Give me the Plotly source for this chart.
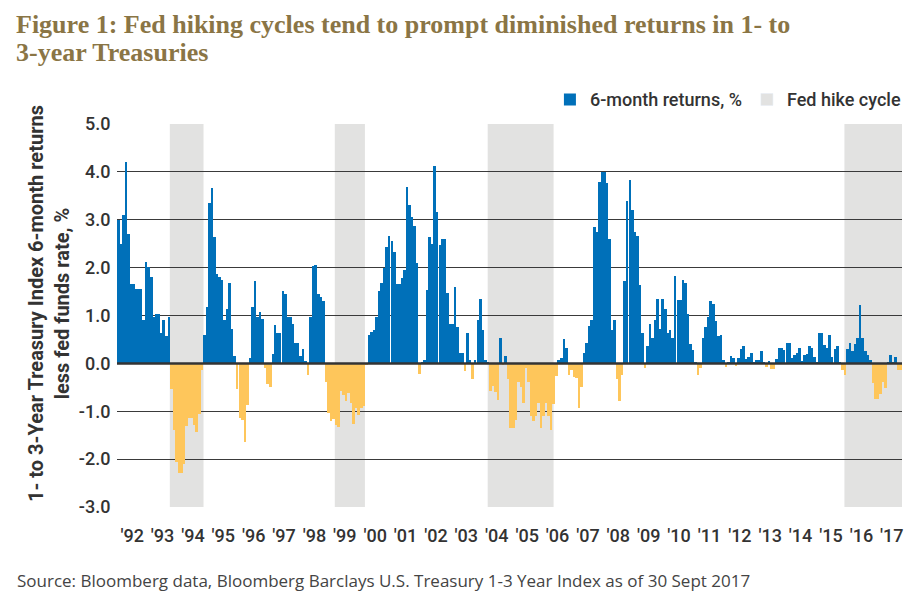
import pandas as pd
import plotly.graph_objects as go

# Monthly 6-month returns of 1-3Y Treasury index less fed funds rate (%), from Jan 1992
returns_1992_1996 = [
    3.0, 2.5, 3.1, 4.2, 2.7, 1.66, 1.66, 1.55, 1.55, 1.55, 0.9, 2.12,
    2.02, 1.8, 0.97, 1.04, 1.04, 0.64, 0.9, 0.57, 0.97, -0.53, -1.39, -2.06,
    -2.28, -2.28, -2.11, -1.31, -1.14, -1.14, -1.28, -1.43, -1.06, -0.14, 0.6, 1.18,
    3.35, 3.66, 2.64, 1.86, 1.8, 1.75, 0.9, 1.14, 1.68, 0.71, 0.15, -0.54,
    -1.15, -1.18, -1.64, -0.86, 0.12, 1.18, 1.72, 0.97, 1.07, 0.93, -0.1, -0.44,
]
returns_1997_2001 = [
    -0.49, 0.19, 0.8, 0.64, 0.64, 1.52, 1.45, 0.97, 0.97, 0.83, 0.43, 0.43,
    0.15, 0.29, 0.04, -0.24, 0.97, 2.03, 2.06, 1.45, 1.39, 1.31, -0.39, -1.04,
    -1.21, -1.17, -1.28, -1.32, -0.58, -0.67, -0.78, -0.61, -0.83, -1.27, -0.93, -1.07,
    -0.93, -0.89, -0.03, 0.6, 0.65, 0.7, 0.97, 1.52, 1.68, 2.0, 2.43, 2.67,
    2.55, 2.32, 1.66, 1.66, 1.79, 1.96, 3.69, 3.3, 3.05, 2.88, 2.1, -0.22,
]
returns_2002_2006 = [
    0.03, 0.07, 1.54, 2.64, 2.5, 4.13, 3.16, 2.48, 2.6, 2.6, 1.47, 0.83,
    0.83, 1.59, 0.77, 0.22, 0.22, -0.15, 0.64, 0.08, -0.32, 0.08, 0.9, 1.35,
    0.7, 0.08, 0.02, -0.58, -0.47, -0.6, -0.77, 0.54, -0.04, 0.15, -0.33, -1.36,
    -1.36, -1.18, -0.39, -0.49, -0.82, -0.1, -0.39, -1.09, -1.2, -1.09, -0.83, -1.36,
    -1.09, -0.83, -1.1, -1.39, -0.85, -0.26, 0.08, 0.12, 0.5, 0.33, -0.24, -0.14,
]
returns_2007_2011 = [
    -0.29, -0.31, -0.93, -0.5, 0.22, 0.43, 0.79, 0.9, 2.84, 2.74, 3.78, 3.99,
    3.99, 3.76, 2.6, 0.7, 0.9, -0.32, -0.79, -0.24, 1.73, 3.39, 3.83, 3.21,
    2.75, 2.67, 1.63, 0.64, -0.1, 0.36, 0.83, 0.54, 0.9, 1.35, 0.71, 1.35,
    1.14, 0.64, 0.7, 0.54, 1.82, 1.32, 1.32, 1.75, 1.68, 1.04, 0.4, 0.27,
    0.02, -0.24, -0.1, 0.54, 0.77, 0.97, 1.31, 1.25, 0.88, 0.57, 0.6, 0.07,
]
returns_2012_2017 = [
    -0.07, 0.02, 0.15, 0.12, -0.05, 0.12, 0.29, 0.36, 0.1, 0.13, 0.22, 0.02,
    0.08, 0.08, 0.26, 0.02, -0.07, 0.05, -0.11, -0.11, 0.1, 0.32, 0.32, 0.27,
    0.43, 0.43, 0.12, 0.18, 0.22, 0.33, 0.05, 0.17, 0.2, 0.36, 0.33, 0.13,
    0.01, 0.63, 0.63, 0.39, 0.33, 0.6, 0.13, 0.29, 0.36, 0.02, -0.13, -0.25,
    0.29, 0.43, 0.26, 0.4, 0.53, 1.21, 0.53, 0.26, 0.17, 0.08, -0.4, -0.74,
    -0.74, -0.63, -0.39, -0.51, 0.01, 0.17, 0.03, 0.13, -0.14, -0.14,
]

hike_starts = ["1993-09-27", "1999-03-03", "2004-03-14", "2015-12-10"]
hike_ends = ["1994-11-06", "2000-02-28", "2006-05-15", "2017-11-01"]

years = list(range(1992, 2018))
year_labels = ["'" + str(y)[2:] for y in years]
y_ticks = [-3, -2, -1, 0, 1, 2, 3, 4, 5]

title_lines = ["Figure 1: Fed hiking cycles tend to prompt diminished returns in 1- to",
               "3-year Treasuries"]

values = returns_1992_1996 + returns_1997_2001 + returns_2002_2006 + returns_2007_2011 + returns_2012_2017
months = pd.date_range("1992-01-01", periods=len(values), freq="MS") + pd.Timedelta(days=15)
month_ms = 30.44 * 24 * 3600 * 1000

pos = [v if v > 0 else None for v in values]
neg = [v if v <= 0 else None for v in values]

label_font = "Roboto, Lato, sans-serif"
text_color = "#333333"

# page body has an 8px margin; figure is sized/offset to compensate
W, H = 914, 601
ML, MR, MT, MB = 109, 20, 116, 102
plot_w = W - ML - MR
plot_h = H - MT - MB


def px_x(fx):
    return (fx - ML) / plot_w


def px_y(fy):
    return 1 - (fy - MT) / plot_h


fig = go.Figure()
fig.add_trace(go.Bar(x=months, y=pos, width=[month_ms] * len(values),
                     marker=dict(color="#0070b9", line=dict(width=0)),
                     name="6-month returns, %"))
fig.add_trace(go.Bar(x=months, y=neg, width=[month_ms] * len(values),
                     marker=dict(color="#fec65b", line=dict(width=0)),
                     showlegend=False, name="neg"))
fig.add_trace(go.Bar(x=[None], y=[None], marker=dict(color="#e2e2e1"), name="Fed hike cycle"))

for s, e in zip(hike_starts, hike_ends):
    fig.add_shape(type="rect", xref="x", yref="paper", x0=s, x1=e, y0=0, y1=1,
                  fillcolor="#e2e2e1", line=dict(width=0), layer="below")

fig.add_shape(type="line", xref="paper", yref="y", x0=0, x1=1, y0=0, y1=0,
              line=dict(color="#333333", width=2.5), layer="above")

fig.update_layout(
    width=W, height=H,
    margin=dict(l=ML, r=MR, t=MT, b=MB),
    plot_bgcolor="white", paper_bgcolor="white",
    barmode="overlay", bargap=0,
    legend=dict(orientation="h", x=1.005, xanchor="right", y=1.015, yanchor="bottom",
                font=dict(family=label_font, size=18, color=text_color, weight=500),
                itemwidth=30, traceorder="normal", bgcolor="rgba(0,0,0,0)"),
    xaxis=dict(type="date", range=["1992-01-01", "2017-11-01"],
               tickmode="array",
               tickvals=[f"{y}-07-01" for y in years], ticktext=year_labels,
               tickfont=dict(family=label_font, size=18, color=text_color, weight=500),
               showgrid=False, zeroline=False, showline=False,
               ticks="outside", ticklen=12, tickcolor="rgba(0,0,0,0)"),
    yaxis=dict(range=[-3, 5], tickmode="array", tickvals=y_ticks,
               ticktext=[f"{v:.1f}" for v in y_ticks],
               tickfont=dict(family=label_font, size=18, color=text_color, weight=500),
               showgrid=True, gridcolor="#3a3a3a", gridwidth=1,
               zeroline=False, showline=False, ticks="outside", ticklen=2,
               tickcolor="rgba(0,0,0,0)"),
    showlegend=True,
)

for line, fy in zip(title_lines, [1, 29]):
    fig.add_annotation(
        text=f"<b>{line}</b>", xref="paper", yref="paper", x=px_x(7), y=px_y(fy),
        xanchor="left", yanchor="top", align="left", showarrow=False, borderpad=0,
        font=dict(family="Liberation Serif, serif", size=26, color="#8a7545"),
    )
fig.add_annotation(
    text="<b>1- to 3-Year Treasury Index 6-month returns<br>less fed funds rate, %</b>",
    xref="paper", yref="paper", x=px_x(41), y=0.53, xanchor="center", yanchor="middle",
    textangle=-90, showarrow=False,
    font=dict(family=label_font, size=20, color=text_color),
)
fig.add_annotation(
    text="Source: Bloomberg data, Bloomberg Barclays U.S. Treasury 1-3 Year Index as of 30 Sept 2017",
    xref="paper", yref="paper", x=px_x(7), y=px_y(572),
    xanchor="left", yanchor="middle", showarrow=False,
    font=dict(family="Open Sans, sans-serif", size=17, color="#444444"),
)

fig.write_html("out.html")
